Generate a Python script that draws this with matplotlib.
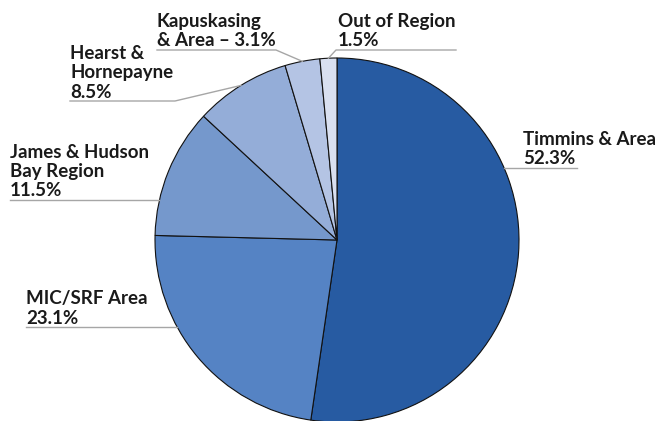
import numpy as np
import matplotlib
matplotlib.use("Agg")
import matplotlib.pyplot as plt

# Share of clients by home region (percent)
regions = ["Timmins & Area", "MIC/SRF Area", "James & Hudson Bay Region",
           "Hearst & Hornepayne", "Kapuskasing & Area", "Out of Region"]
shares = [52.3, 23.1, 11.5, 8.5, 3.1, 1.5]
label_texts = [
    "Timmins & Area\n52.3%",
    "MIC/SRF Area\n23.1%",
    "James & Hudson\nBay Region\n11.5%",
    "Hearst &\nHornepayne\n8.5%",
    "Kapuskasing\n& Area \u2013 3.1%",
    "Out of Region\n1.5%",
]
colors = ["#275BA2", "#5583C4", "#7598CC", "#94ADD8", "#B4C4E4", "#D9E0F0"]

W, H = 661, 421
fig = plt.figure(figsize=(W / 100, H / 100), dpi=100)
ax = fig.add_axes([0, 0, 1, 1])

cx, cy, r = 337, H - 240, 182
wedges, _ = ax.pie(shares, colors=colors, startangle=90, counterclock=False,
                   center=(cx, cy), radius=r, frame=True,
                   wedgeprops=dict(edgecolor="#111111", linewidth=0.8))
ax.set_xlim(0, W)
ax.set_ylim(0, H)
ax.set_aspect("equal")
ax.axis("off")

# label layout in pixel coords from top: text x, underline y, underline x0, x1
layout = [
    dict(tx=523, uy=168, ux0=None, ux1=577, side="circle_left"),
    dict(tx=26, uy=327, ux0=26, ux1=None, side="circle_right"),
    dict(tx=10, uy=200, ux0=10, ux1=None, side="circle_right"),
    dict(tx=70, uy=101, ux0=70, ux1=175, side="mid_right"),
    dict(tx=157, uy=50, ux0=157, ux1=276, side="mid_right"),
    dict(tx=338, uy=50, ux0=336, ux1=456, side="mid_left"),
]

line_col = "#A6A6A6"
font = dict(family=["Lato", "DejaVu Sans"], fontsize=13.5,
            fontweight="bold", color="#1a1a1a")

for w, txt, lay in zip(wedges, label_texts, layout):
    uy = H - lay["uy"]
    ux0, ux1 = lay["ux0"], lay["ux1"]
    side = lay["side"]
    if side.startswith("circle"):
        # underline runs straight into the pie edge
        dx = np.sqrt(r ** 2 - (uy - cy) ** 2)
        if side == "circle_left":
            ux0 = cx + dx
        else:
            ux1 = cx - dx
        ax.plot([ux0, ux1], [uy, uy], color=line_col, lw=1.0, zorder=1)
    else:
        # slanted leader to the slice's mid-angle on the rim
        mid = np.deg2rad((w.theta1 + w.theta2) / 2)
        ex, ey = cx + r * np.cos(mid), cy + r * np.sin(mid)
        if side == "mid_right":
            ax.plot([ux0, ux1, ex], [uy, uy, ey], color=line_col, lw=1.0,
                    zorder=1)
        else:
            ax.plot([ex, ux0, ux1], [ey, uy, uy], color=line_col, lw=1.0,
                    zorder=1)
    ax.text(lay["tx"], uy + 3.5, txt, ha="left", va="baseline",
            linespacing=1.15, **font)

fig.savefig("out.png", dpi=100)
